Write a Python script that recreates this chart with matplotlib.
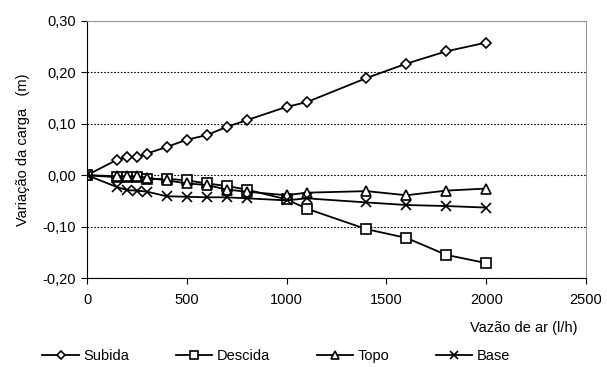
import matplotlib.pyplot as plt
from matplotlib.ticker import FuncFormatter

plt.rcParams['font.family'] = ['Liberation Sans', 'DejaVu Sans']

vazao = [0, 150, 200, 250, 300, 400, 500, 600, 700, 800, 1000, 1100, 1400, 1600, 1800, 2000]
subida = [0.0, 0.030, 0.035, 0.035, 0.042, 0.055, 0.069, 0.078, 0.094, 0.107, 0.133, 0.142,
          0.189, 0.217, 0.241, 0.258]
descida = [0.0, -0.004, -0.004, -0.003, -0.008, -0.007, -0.010, -0.016, -0.021, -0.028, -0.047,
           -0.065, -0.105, -0.122, -0.155, -0.171]
topo = [0.0, -0.002, -0.002, -0.002, -0.005, -0.010, -0.016, -0.019, -0.028, -0.032, -0.039,
        -0.034, -0.031, -0.039, -0.030, -0.026]
base = [0.0, -0.023, -0.029, -0.030, -0.032, -0.041, -0.042, -0.043, -0.043, -0.045, -0.049,
        -0.045, -0.053, -0.058, -0.060, -0.063]

fig = plt.figure(figsize=(6.07, 3.67), dpi=100)
ax = fig.add_axes([87/607, 1 - 278/367, (586-87)/607, (278-21)/367])

estilo = dict(color='black', lw=1.3, mfc='white', mec='black', mew=1.2)
ax.plot(vazao, subida, marker='D', ms=5.5, label='Subida', **estilo)
ax.plot(vazao, descida, marker='s', ms=7, label='Descida', **estilo)
ax.plot(vazao, topo, marker='^', ms=7.5, label='Topo', **estilo)
ax.plot(vazao, base, marker='x', ms=7, label='Base', **estilo)

ax.set_xlim(0, 2500)
ax.set_ylim(-0.20, 0.30)
ax.set_xticks(range(0, 2501, 500))
ax.set_yticks([-0.2, -0.1, 0.0, 0.1, 0.2, 0.3])
ax.yaxis.set_major_formatter(FuncFormatter(lambda v, p: f'{v:.2f}'.replace('.', ',').replace('-0,00', '0,00')))
ax.yaxis.grid(True, linestyle=(0, (1.5, 1.5)), color='black', lw=0.8)
ax.set_axisbelow(True)
ax.tick_params(direction='out', length=4, labelsize=10.5, colors='black', pad=4)
ax.tick_params(axis='x', pad=7)
for s in ['top', 'right']:
    ax.spines[s].set_color('#999999')
for s in ['left', 'bottom']:
    ax.spines[s].set_color('black')

ax.set_ylabel('Variação da carga   (m)', fontsize=10.5, labelpad=9)
ax.set_xlabel('Vazão de ar (l/h)', fontsize=10.5, loc='right', labelpad=10)
ax.xaxis.label.set_x(0.982)

fig.legend(loc='lower center', ncol=4, frameon=False, fontsize=10.5, handlelength=2.5,
           handletextpad=0.3, columnspacing=3.2, bbox_to_anchor=(0.455, -0.025), markerscale=0.8)

fig.savefig('out.png', dpi=100)
